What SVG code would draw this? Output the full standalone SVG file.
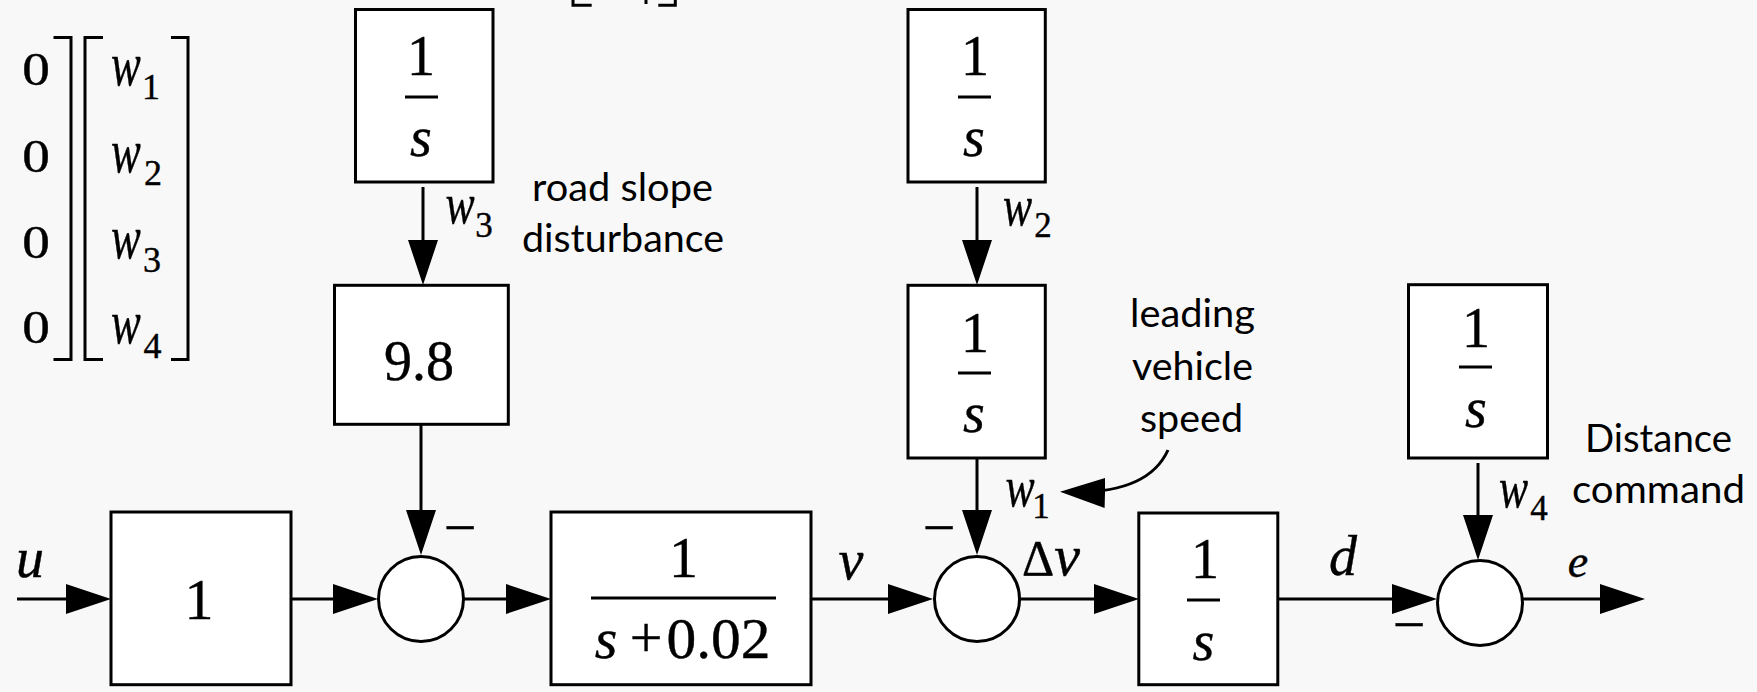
<svg xmlns="http://www.w3.org/2000/svg" width="1757" height="692" viewBox="0 0 1757 692">
<style>
.bg{fill:#f8f8f8}
.blk{fill:#fff;stroke:#000;stroke-width:3}
.ln{fill:none;stroke:#000;stroke-width:3}
.br{fill:none;stroke:#000;stroke-width:3}
.fb{stroke:#000;stroke-width:3}
.m{font-family:"Liberation Serif","Times New Roman",serif;fill:#000;stroke:#000;stroke-width:0.4}
.mi{font-family:"Liberation Serif","Times New Roman",serif;font-style:italic;fill:#000;stroke:#000;stroke-width:0.4}
.lbl{font-family:Lato,"Open Sans",sans-serif;font-size:38px;fill:#000}
</style>
<defs>
<marker id="arr" viewBox="0 0 45 30" refX="35" refY="15" markerWidth="45" markerHeight="30" markerUnits="userSpaceOnUse" orient="auto"><path d="M0,0 L45,15 L0,30 Z" fill="#000"/></marker>
</defs>
<rect class="bg" x="0" y="0" width="1757" height="692"/>

<g id="matrix">
<path class="br" d="M53.5,37.5 H71 V359.5 H53.5"/>
<path class="br" d="M103,37.5 H85 V359.5 H103"/>
<path class="br" d="M171,37.5 H188 V359.5 H171"/>
<text class="m" font-size="46" text-anchor="middle" transform="translate(36,85) scale(1.2,1)">0</text>
<text class="m" font-size="46" text-anchor="middle" transform="translate(36,172) scale(1.2,1)">0</text>
<text class="m" font-size="46" text-anchor="middle" transform="translate(36,258) scale(1.2,1)">0</text>
<text class="m" font-size="46" text-anchor="middle" transform="translate(36,343) scale(1.2,1)">0</text>
<text class="mi" font-size="62" text-anchor="middle" transform="translate(126,84.5) scale(0.72,1)">w</text>
<text class="mi" font-size="62" text-anchor="middle" transform="translate(126,171.5) scale(0.72,1)">w</text>
<text class="mi" font-size="62" text-anchor="middle" transform="translate(126,257.5) scale(0.72,1)">w</text>
<text class="mi" font-size="62" text-anchor="middle" transform="translate(126,342.5) scale(0.72,1)">w</text>
<text class="m" font-size="36" text-anchor="middle" x="151" y="99">1</text>
<text class="m" font-size="36" text-anchor="middle" x="153" y="185">2</text>
<text class="m" font-size="36" text-anchor="middle" x="152" y="272">3</text>
<text class="m" font-size="36" text-anchor="middle" x="152.5" y="358">4</text>
</g>

<g id="top-fragment">
<path class="br" d="M573,0 V5.3 H591.7"/>
<path class="br" d="M658.3,5.3 H675.3 V0"/>
<path class="br" d="M646,0 V4"/>
</g>

<g id="int-w3">
<rect class="blk" x="355.5" y="9.5" width="137.5" height="172.5"/>
<text class="m" font-size="56" text-anchor="middle" x="421" y="75">1</text>
<line class="fb" x1="405" y1="97" x2="438" y2="97"/>
<text class="mi" font-size="56" text-anchor="middle" x="421" y="156">s</text>
</g>

<g id="gain-98">
<rect class="blk" x="334.5" y="285.3" width="173.8" height="139"/>
<text class="m" font-size="56" text-anchor="middle" x="419" y="380">9.8</text>
</g>

<g id="gain-1">
<rect class="blk" x="111" y="512" width="180" height="172.7"/>
<text class="m" font-size="58" text-anchor="middle" x="199" y="619">1</text>
</g>

<g id="sum1">
<circle class="blk" cx="421" cy="599" r="42.5"/>
<text class="m" font-size="58" text-anchor="middle" x="460" y="546.5">−</text>
</g>

<g id="plant">
<rect class="blk" x="551" y="512" width="260" height="172.7"/>
<text class="m" font-size="58" text-anchor="middle" x="683.5" y="577">1</text>
<line class="fb" x1="591" y1="598" x2="776" y2="598"/>
<text class="mi" font-size="58" text-anchor="middle" x="606" y="658">s</text>
<text class="m" font-size="58" text-anchor="middle" x="646" y="657">+</text>
<text class="m" font-size="58" x="666.5" y="658" textLength="104" lengthAdjust="spacingAndGlyphs">0.02</text>
</g>

<g id="int-w2">
<rect class="blk" x="908" y="9.5" width="137.3" height="172.5"/>
<text class="m" font-size="56" text-anchor="middle" x="975" y="75">1</text>
<line class="fb" x1="958" y1="97" x2="991" y2="97"/>
<text class="mi" font-size="56" text-anchor="middle" x="974" y="156">s</text>
</g>

<g id="int-w1">
<rect class="blk" x="908" y="285.3" width="137.3" height="172.7"/>
<text class="m" font-size="56" text-anchor="middle" x="975" y="352">1</text>
<line class="fb" x1="958" y1="373" x2="991" y2="373"/>
<text class="mi" font-size="56" text-anchor="middle" x="974" y="432">s</text>
</g>

<g id="sum2">
<circle class="blk" cx="977" cy="599" r="42.5"/>
<text class="m" font-size="58" text-anchor="middle" x="939" y="546.5">−</text>
</g>

<g id="int-d">
<rect class="blk" x="1138.8" y="513" width="139" height="171.7"/>
<text class="m" font-size="56" text-anchor="middle" x="1205" y="578">1</text>
<line class="fb" x1="1187" y1="600" x2="1220" y2="600"/>
<text class="mi" font-size="56" text-anchor="middle" x="1203.5" y="660">s</text>
</g>

<g id="int-w4">
<rect class="blk" x="1408.5" y="284.7" width="139" height="173.3"/>
<text class="m" font-size="56" text-anchor="middle" x="1476" y="347">1</text>
<line class="fb" x1="1459" y1="367" x2="1492" y2="367"/>
<text class="mi" font-size="56" text-anchor="middle" x="1476" y="427">s</text>
</g>

<g id="sum3">
<circle class="blk" cx="1480" cy="603" r="42.5"/>
<text class="m" font-size="58" text-anchor="middle" x="1409" y="643.5">−</text>
</g>

<g id="connectors">
<line class="ln" x1="17" y1="599" x2="101" y2="599" marker-end="url(#arr)"/>
<line class="ln" x1="291" y1="599" x2="368" y2="599" marker-end="url(#arr)"/>
<line class="ln" x1="463" y1="599" x2="541" y2="599" marker-end="url(#arr)"/>
<line class="ln" x1="811" y1="599" x2="923" y2="599" marker-end="url(#arr)"/>
<line class="ln" x1="1019" y1="599" x2="1129" y2="599" marker-end="url(#arr)"/>
<line class="ln" x1="1278" y1="599" x2="1427" y2="599" marker-end="url(#arr)"/>
<line class="ln" x1="1522" y1="599" x2="1635" y2="599" marker-end="url(#arr)"/>
<line class="ln" x1="423" y1="187" x2="423" y2="275" marker-end="url(#arr)"/>
<line class="ln" x1="421" y1="424" x2="421" y2="545" marker-end="url(#arr)"/>
<line class="ln" x1="977" y1="187" x2="977" y2="275" marker-end="url(#arr)"/>
<line class="ln" x1="977" y1="458" x2="977" y2="545" marker-end="url(#arr)"/>
<line class="ln" x1="1478" y1="463" x2="1478" y2="550" marker-end="url(#arr)"/>
<path class="ln" d="M1168,450 Q1148,494 1070,492" marker-end="url(#arr)"/>
</g>

<g id="signal-labels">
<text class="mi" font-size="56" text-anchor="middle" x="30" y="577">u</text>
<text class="mi" font-size="56" text-anchor="middle" x="851" y="579">v</text>
<text class="m" font-size="50" text-anchor="middle" x="1038" y="575">Δ</text>
<text class="mi" font-size="58" text-anchor="middle" x="1067" y="575">v</text>
<text class="mi" font-size="56" text-anchor="middle" x="1343" y="575">d</text>
<text class="mi" font-size="46" text-anchor="middle" x="1578" y="577">e</text>
<text class="mi" font-size="56" text-anchor="middle" transform="translate(460,223) scale(0.78,1)">w</text>
<text class="m" font-size="35" text-anchor="middle" x="484" y="237">3</text>
<text class="mi" font-size="56" text-anchor="middle" transform="translate(1017.5,225) scale(0.78,1)">w</text>
<text class="m" font-size="35" text-anchor="middle" x="1043" y="237">2</text>
<text class="mi" font-size="56" text-anchor="middle" transform="translate(1020,506) scale(0.78,1)">w</text>
<text class="m" font-size="35" text-anchor="middle" x="1041" y="518">1</text>
<text class="mi" font-size="56" text-anchor="middle" transform="translate(1513.5,507) scale(0.78,1)">w</text>
<text class="m" font-size="35" text-anchor="middle" x="1539" y="520">4</text>
</g>

<g id="annotations">
<text class="lbl" text-anchor="middle" x="622.5" y="201" textLength="181" lengthAdjust="spacingAndGlyphs">road slope</text>
<text class="lbl" text-anchor="middle" x="623" y="252" textLength="202" lengthAdjust="spacingAndGlyphs">disturbance</text>
<text class="lbl" text-anchor="middle" x="1192.5" y="327" textLength="125" lengthAdjust="spacingAndGlyphs">leading</text>
<text class="lbl" text-anchor="middle" x="1192.5" y="380" textLength="121" lengthAdjust="spacingAndGlyphs">vehicle</text>
<text class="lbl" text-anchor="middle" x="1191.5" y="432" textLength="103" lengthAdjust="spacingAndGlyphs">speed</text>
<text class="lbl" text-anchor="middle" x="1658.5" y="452" textLength="147" lengthAdjust="spacingAndGlyphs">Distance</text>
<text class="lbl" text-anchor="middle" x="1658.5" y="503" textLength="173" lengthAdjust="spacingAndGlyphs">command</text>
</g>
</svg>
